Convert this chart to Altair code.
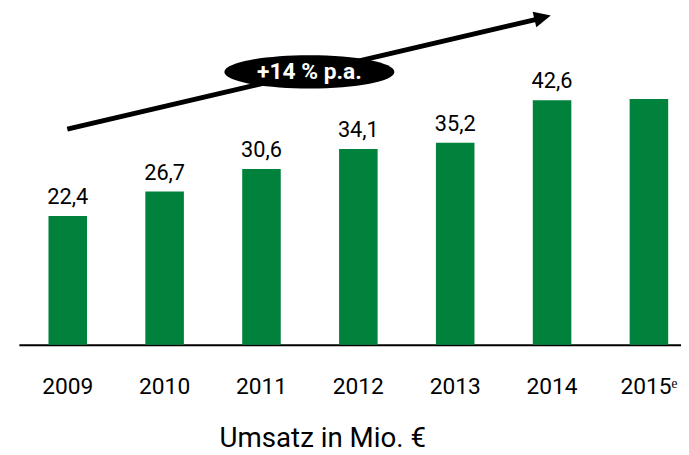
import altair as alt
import pandas as pd

# ---- data ----
years = ["2009", "2010", "2011", "2012", "2013", "2014", "2015ᵉ"]
umsatz = [22.4, 26.7, 30.6, 34.1, 35.2, 42.6, 42.8]
value_labels = ["22,4", "26,7", "30,6", "34,1", "35,2", "42,6", ""]

growth_label = ["+14 % p.a."]
axis_title = "Umsatz in Mio. €"

df = pd.DataFrame({"year": years, "umsatz": umsatz, "label": value_labels})
ann = pd.DataFrame({"text": growth_label})

FONT = "Roboto"
GREEN = "#00823C"

x = alt.X(
    "year:N",
    sort=years,
    scale=alt.Scale(paddingInner=0.602, paddingOuter=0.219, align=0.698, round=False),
    axis=alt.Axis(
        title=axis_title,
        labelAngle=0,
        labelFontSize=23,
        labelFont=FONT,
        labelColor="black",
        labelPadding=31,
        ticks=False,
        domainColor="black",
        domainWidth=2,
        titleFont=FONT,
        titleFontSize=28,
        titleFontWeight="normal",
        titleColor="black",
        titleX=307,
        titleY=103,
        titleAlign="center",
        titleBaseline="alphabetic",
    ),
)
y = alt.Y("umsatz:Q", scale=alt.Scale(domain=[0, 58.2], nice=False, zero=True), axis=None)

base = alt.Chart(df).encode(x=x, y=y)

bars = base.mark_bar(color=GREEN)

labels = (
    base.transform_filter("datum.label != ''")
    .mark_text(dy=-12, baseline="alphabetic", fontSize=22, font=FONT, color="black")
    .encode(text="label:N")
)

# ---- growth arrow annotation ----
arrow_line = alt.Chart(ann).mark_rule(strokeWidth=5, color="black").encode(
    x=alt.value(49), y=alt.value(120), x2=alt.value(527), y2=alt.value(8)
)
arrow_head = alt.Chart(ann).mark_point(
    shape="M 1 0 L -1 -0.95 L -1 0.95 Z",
    size=17 * 17,
    filled=True,
    color="black",
    opacity=1,
    angle=346.7,
).encode(x=alt.value(530), y=alt.value(7))

ellipse = alt.Chart(ann).mark_point(
    shape="M -1 0 A 1 0.195 0 1 0 1 0 A 1 0.195 0 1 0 -1 0 Z",
    size=172 * 172,
    filled=True,
    color="black",
    opacity=1,
).encode(x=alt.value(294), y=alt.value(62))

ellipse_text = alt.Chart(ann).mark_text(
    fontSize=23, fontWeight="bold", color="white", font=FONT, baseline="middle", align="center"
).encode(x=alt.value(294), y=alt.value(62), text="text:N")

chart = (
    alt.layer(bars, labels, arrow_line, arrow_head, ellipse, ellipse_text)
    .properties(
        width=670,
        height=338,
        autosize=alt.AutoSizeParams(type="none"),
        padding={"left": 11, "top": 0, "right": 0, "bottom": 109},
        background="white",
    )
    .configure_view(stroke=None)
)

chart.save("out.html", embed_options={"renderer": "svg", "actions": False})
